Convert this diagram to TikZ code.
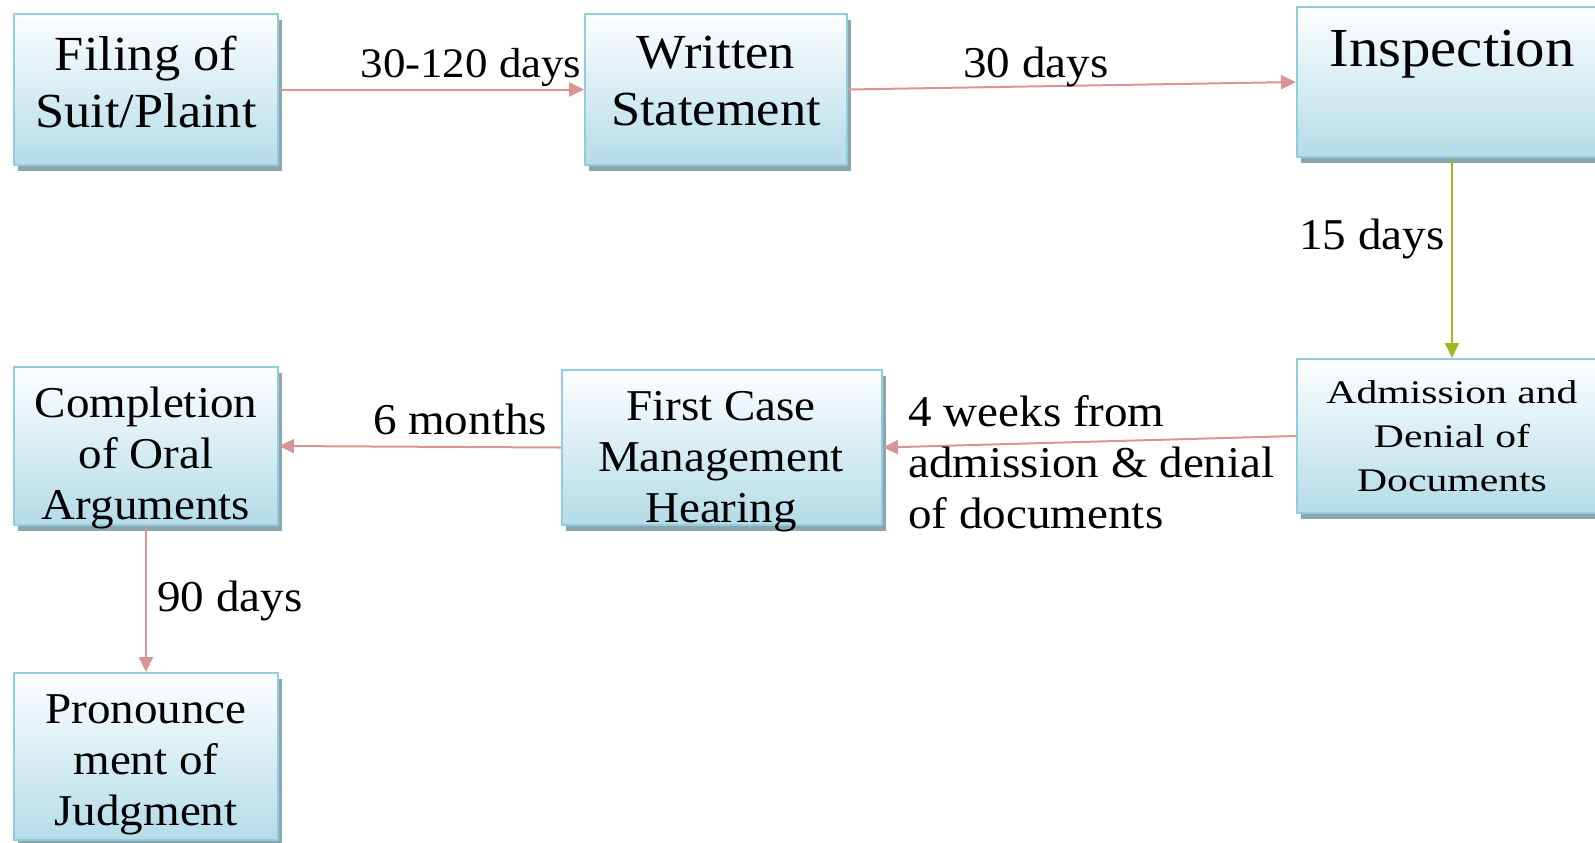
\documentclass[tikz,border=0pt]{standalone}
\usepackage{fontspec}
\setmainfont[FakeStretch=1.07]{Liberation Serif}
\usetikzlibrary{arrows.meta,shadows}
\definecolor{boxtop}{RGB}{253,254,255}
\definecolor{boxbot}{RGB}{180,220,232}
\definecolor{boxedge}{RGB}{146,205,221}
\definecolor{shadowc}{RGB}{140,165,175}
\definecolor{pinkarrow}{RGB}{217,149,148}
\definecolor{greenarrow}{RGB}{160,185,35}
\tikzset{
  box/.style={rectangle, draw=boxedge, line width=1pt, top color=boxtop, bottom color=boxbot, inner sep=0pt,
    drop shadow={shadow xshift=2pt, shadow yshift=-3pt, fill=shadowc, opacity=1}},
  boxtext/.style={align=center, inner sep=0pt, text=black, font=\fontsize{24.5}{28.5}\selectfont},
  midtext/.style={align=center, inner sep=0pt, text=black, font=\fontsize{22}{25.5}\selectfont},
  lbl/.style={inner sep=0pt, text=black, font=\fontsize{22}{25.5}\selectfont},
  conn/.style={draw=pinkarrow, line width=1pt, -{Triangle[length=7.5pt,width=7pt]}},
  gconn/.style={draw=greenarrow, line width=1pt, -{Triangle[length=7.5pt,width=7pt]}},
}
\begin{document}
\begin{tikzpicture}[x=0.5pt,y=-0.5pt]
\useasboundingbox (0,0) rectangle (1595,842);
% boxes
\node[box, minimum width=132pt, minimum height=75.5pt] (filing) at (146,89.5) {};
\node[box, minimum width=131pt, minimum height=75.5pt] (written) at (716,89.5) {};
\node[box, minimum width=155pt, minimum height=75pt] (inspection) at (1452,82) {};
\node[box, minimum width=155pt, minimum height=77pt] (admission) at (1452,436) {};
\node[box, minimum width=160pt, minimum height=77.5pt] (fcmh) at (722,447.5) {};
\node[box, minimum width=132pt, minimum height=79pt] (completion) at (146,446) {};
\node[box, minimum width=132pt, minimum height=83.5pt] (pronounce) at (146,756.5) {};
% box texts
\node[boxtext] (filingt) at (146,81.5) {Filing of\\Suit/Plaint};
\node[boxtext] (writtent) at (716,81.5) {Written\\Statement};
\node[boxtext, font=\fontsize{27.5}{30}\selectfont] (inspectiont) at (1452,54) {Inspection};
\node[inner sep=0pt, text=black, font=\fontsize{16.5}{22}\selectfont] (admissiont) at (1452,439)
  {\scalebox{1.18}[1]{\begin{tabular}{@{}c@{}}Admission and\\Denial of\\Documents\end{tabular}}};
\node[midtext] (fcmht) at (721,462) {First Case\\Management\\Hearing};
\node[midtext] (completiont) at (146,458) {Completion\\of Oral\\Arguments};
\node[midtext] (pronouncet) at (146,765) {Pronounce\\ment of\\Judgment};
% connectors
\draw[conn] (filing) -- (written);
\draw[conn] (written.east) -- (inspection.west);
\draw[gconn] (inspection) -- (admission);
\draw[conn] (admission.west) -- (fcmh.east);
\draw[conn] (fcmh.west) -- (completion.east);
\draw[conn] (completion) -- (pronounce);
% labels
\node[lbl, font=\fontsize{21}{25.5}\selectfont] (l1) at (471,67) {30-120 days};
\node[lbl] (l2) at (1036,67) {30 days};
\node[lbl] (l3) at (1372,239) {15 days};
\node[lbl, align=left, anchor=west] (l4) at (908,462) {4 weeks from\\admission \& denial\\of documents};
\node[lbl] (l5) at (460,419) {6 months};
\node[lbl] (l6) at (230,601) {90 days};
\end{tikzpicture}
\end{document}
